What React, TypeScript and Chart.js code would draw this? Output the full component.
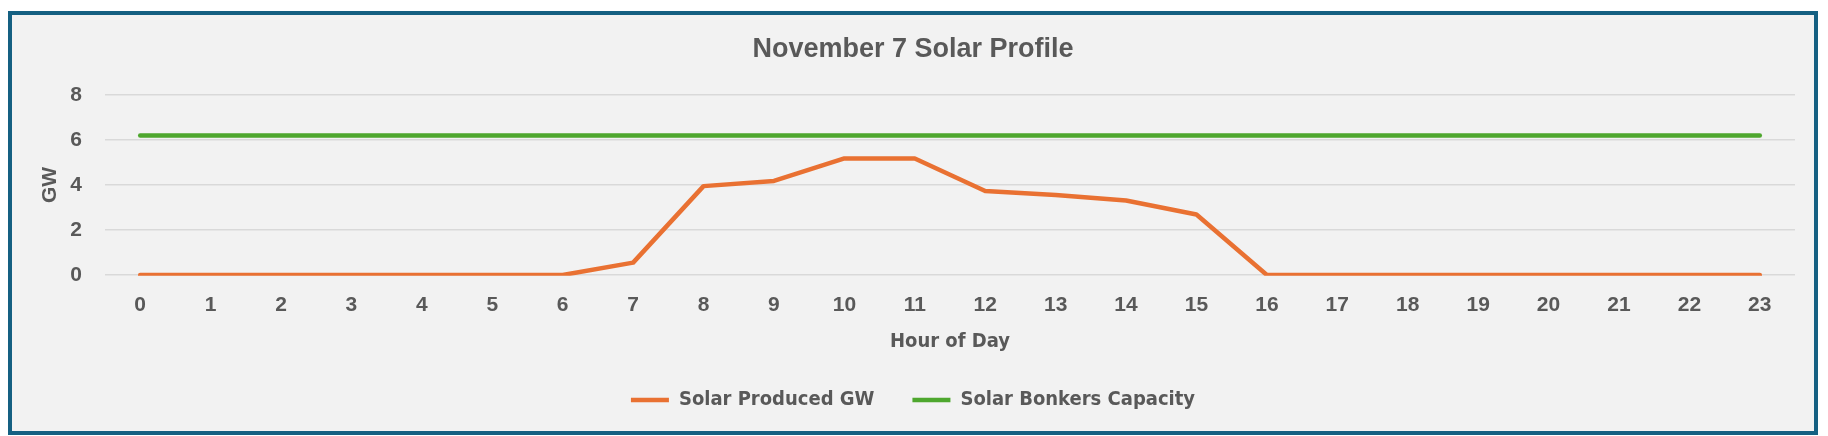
import React, { useEffect, useRef } from "react";
import { Chart, registerables } from "chart.js";

Chart.register(...registerables);

const chartTitle = "November 7 Solar Profile";
const xAxisTitle = "Hour of Day";
const yAxisTitle = "GW";

const hours = [
  "0", "1", "2", "3", "4", "5", "6", "7", "8", "9", "10", "11",
  "12", "13", "14", "15", "16", "17", "18", "19", "20", "21", "22", "23",
];

const solarProducedLabel = "Solar Produced GW";
const solarProduced = [
  0, 0, 0, 0, 0, 0, 0, 0.55, 3.95, 4.18, 5.18, 5.18,
  3.73, 3.56, 3.31, 2.69, 0, 0, 0, 0, 0, 0, 0, 0,
];

const capacityLabel = "Solar Bonkers Capacity";
const capacity = [
  6.2, 6.2, 6.2, 6.2, 6.2, 6.2, 6.2, 6.2, 6.2, 6.2, 6.2, 6.2,
  6.2, 6.2, 6.2, 6.2, 6.2, 6.2, 6.2, 6.2, 6.2, 6.2, 6.2, 6.2,
];

const yMin = 0;
const yMax = 8;
const yStep = 2;

const TEXT = "#595959";
const ORANGE = "#E97132";
const GREEN = "#4EA72E";
const GRID = "#D9D9D9";
const SANS = "'Liberation Sans', Arial, sans-serif";
const NARROW = "'DejaVu Sans Condensed', 'Liberation Sans', sans-serif";

export default function App() {
  const canvasRef = useRef<HTMLCanvasElement | null>(null);

  useEffect(() => {
    const canvas = canvasRef.current;
    if (!canvas) return;
    const chart = new Chart(canvas, {
      type: "line",
      data: {
        labels: hours,
        datasets: [
          {
            label: solarProducedLabel,
            data: solarProduced,
            borderColor: ORANGE,
            backgroundColor: ORANGE,
            borderWidth: 4.5,
            borderCapStyle: "round",
            borderJoinStyle: "round",
            pointRadius: 0,
            pointHoverRadius: 0,
            tension: 0,
            clip: { left: 5, right: 5, top: 5, bottom: 0.8 } as any,
          },
          {
            label: capacityLabel,
            data: capacity,
            borderColor: GREEN,
            backgroundColor: GREEN,
            borderWidth: 4.5,
            borderCapStyle: "round",
            borderJoinStyle: "round",
            pointRadius: 0,
            pointHoverRadius: 0,
            tension: 0,
          },
        ],
      },
      options: {
        animation: false,
        responsive: true,
        maintainAspectRatio: false,
        layout: { padding: { left: 19, right: 19, top: 0, bottom: 11 } },
        plugins: {
          tooltip: { enabled: false },
          title: {
            display: true,
            text: chartTitle,
            color: TEXT,
            font: { family: SANS, size: 27, weight: "bold", lineHeight: 1.2 },
            padding: { top: 18.8, bottom: 28.8 },
          },
          legend: {
            display: true,
            position: "bottom",
            labels: {
              color: TEXT,
              font: { family: NARROW, size: 20, weight: "bold", lineHeight: 1.2 },
              usePointStyle: true,
              pointStyle: "line",
              pointStyleWidth: 38,
              padding: 38,
            },
          },
        },
        scales: {
          x: {
            type: "category",
            offset: true,
            grid: { display: false, drawTicks: false },
            border: { display: false },
            ticks: {
              color: TEXT,
              font: { family: SANS, size: 21, weight: "bold", lineHeight: 1.2 },
              padding: 18,
              maxRotation: 0,
              autoSkip: false,
            },
            title: {
              display: true,
              text: xAxisTitle,
              color: TEXT,
              font: { family: NARROW, size: 20, weight: "bold", lineHeight: 1.2 },
              padding: { top: 0, bottom: -1.3 },
            },
            afterFit: (scale: any) => {
              scale.height = 77;
            },
          },
          y: {
            min: yMin,
            max: yMax,
            grid: { color: GRID, lineWidth: 1.6, drawTicks: false },
            border: { display: false },
            ticks: {
              stepSize: yStep,
              color: TEXT,
              font: { family: SANS, size: 21, weight: "bold", lineHeight: 1.2 },
              padding: 23,
            },
            title: {
              display: true,
              text: yAxisTitle,
              color: TEXT,
              font: { family: SANS, size: 21, weight: "bold", lineHeight: 1.2 },
              padding: { top: 6.4, bottom: 0 },
            },
            afterFit: (scale: any) => {
              scale.width = 74;
            },
          },
        },
      },
    });
    return () => chart.destroy();
  }, []);

  return (
    <div
      style={{
        marginTop: 3,
        width: 1810,
        height: 424,
        boxSizing: "border-box",
        border: "4px solid #156082",
        background: "#F2F2F2",
      }}
    >
      <div style={{ position: "relative", width: 1802, height: 416 }}>
        <canvas ref={canvasRef} />
      </div>
    </div>
  );
}
